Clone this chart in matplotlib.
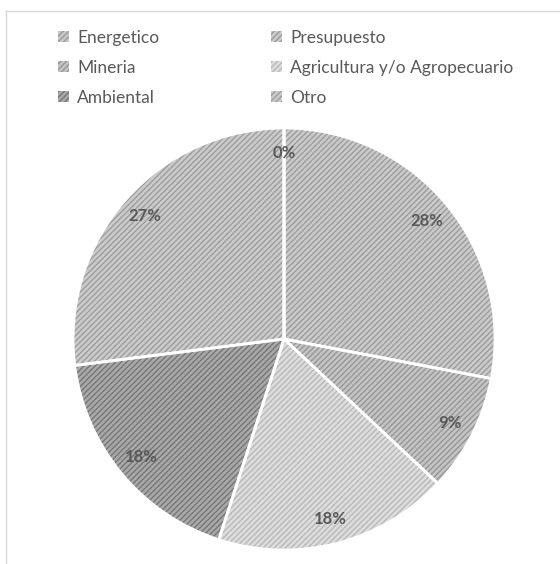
import matplotlib.pyplot as plt
from matplotlib.lines import Line2D

plt.rcParams['font.family'] = ['Lato', 'DejaVu Sans']
plt.rcParams['hatch.linewidth'] = 1.0

categories = ['Energetico', 'Presupuesto', 'Mineria',
              'Agricultura y/o Agropecuario', 'Ambiental', 'Otro']
values = [0, 28, 9, 18, 18, 27]

face_colors = ['#c8c8c8', '#cacaca', '#c4c4c4', '#dddddd', '#a9a9a9', '#cbcbcb']
hatch_colors = ['#9a9a9a', '#9c9c9c', '#969696', '#b8b8b8', '#767676', '#9d9d9d']

fig = plt.figure(figsize=(5.6, 5.64), dpi=100)
ax = fig.add_axes([0.1304, 0.0248, 0.7536, 0.7482])

wedges, texts, autotexts = ax.pie(
    values, startangle=90, counterclock=False, colors=face_colors,
    autopct='%1.0f%%', pctdistance=0.88, radius=1.0,
    wedgeprops=dict(linewidth=0),
    textprops=dict(fontsize=12, color='#595959', fontweight='bold'))

for w, hc in zip(wedges, hatch_colors):
    w.set_hatch('//////')
    w.set_edgecolor(hc)

# white separators on top
ax.pie(values, startangle=90, counterclock=False, radius=1.0,
       colors=['none'] * len(values),
       wedgeprops=dict(linewidth=2, edgecolor='white', fill=False))

ax.set_xlim(-1.0, 1.0)
ax.set_ylim(-1.0, 1.0)
ax.set_aspect('equal')

# legend is filled row by row in the reference
order = [0, 2, 4, 1, 3, 5]
fig.legend([wedges[i] for i in order], [categories[i] for i in order],
           ncol=2, loc='upper left',
           bbox_to_anchor=(0.076, 0.975), frameon=False,
           fontsize=12.5, labelcolor='#595959',
           handlelength=0.6, handleheight=0.6, handletextpad=0.5,
           columnspacing=6.45, labelspacing=0.8)

# chart area border (left and top only visible)
fig.add_artist(Line2D([6 / 560, 6 / 560], [0, 1 - 11 / 564],
                      transform=fig.transFigure, color='#d9d9d9', lw=1))
fig.add_artist(Line2D([6 / 560, 1], [1 - 11 / 564, 1 - 11 / 564],
                      transform=fig.transFigure, color='#d9d9d9', lw=1))

fig.savefig('out.png', dpi=100)
